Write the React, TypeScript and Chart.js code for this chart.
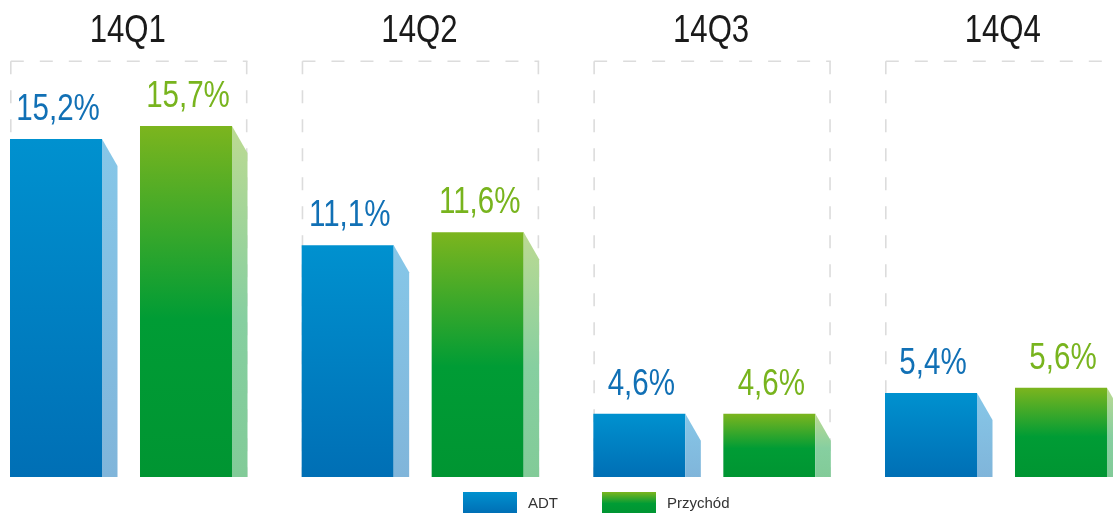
import React, { useEffect, useRef } from 'react';
import { Chart, registerables } from 'chart.js';

Chart.register(...registerables);

// ---- data ----
const quarters = ['14Q1', '14Q2', '14Q3', '14Q4'];
const adtValues = [15.2, 11.1, 4.6, 5.4];
const revenueValues = [15.7, 11.6, 4.6, 5.6];
const seriesNames = ['ADT', 'Przychód'];
const yMin = 2.157;
const yMax = 18.206;

// ---- style ----
const FONT = "'Liberation Sans', Arial, sans-serif";
const NARROW_SCALE = 0.82;
const SIDE_W = 15.5;
const SLANT = 27;
const LABEL_GAP = 19;
const LABEL_COLORS = ['#1170B5', '#78B41E'];

const fmt = (v: number) => v.toFixed(1).replace('.', ',') + '%';

function frontGradient(ctx: CanvasRenderingContext2D, top: number, bottom: number, kind: number) {
  const g = ctx.createLinearGradient(0, top, 0, bottom);
  if (kind === 0) {
    g.addColorStop(0, '#0091CF');
    g.addColorStop(1, '#006FB5');
  } else {
    g.addColorStop(0, '#7CB51E');
    g.addColorStop(0.55, '#009C35');
    g.addColorStop(1, '#009532');
  }
  return g;
}

function sideGradient(ctx: CanvasRenderingContext2D, top: number, bottom: number, kind: number) {
  const g = ctx.createLinearGradient(0, top, 0, bottom);
  if (kind === 0) {
    g.addColorStop(0, '#86C7E8');
    g.addColorStop(1, '#80B5DA');
  } else {
    g.addColorStop(0, '#BCDA92');
    g.addColorStop(0.55, '#86CFA0');
    g.addColorStop(1, '#82CB98');
  }
  return g;
}

// draws horizontally condensed text (like a "Narrow" face), centered at x
function narrowText(ctx: CanvasRenderingContext2D, text: string, x: number, y: number, size: number, color: string) {
  ctx.save();
  ctx.translate(x, y);
  ctx.scale(NARROW_SCALE, 1);
  ctx.fillStyle = color;
  ctx.font = `${size}px ${FONT}`;
  ctx.textAlign = 'center';
  ctx.textBaseline = 'alphabetic';
  ctx.fillText(text, 0, 0);
  ctx.restore();
}

const scriptedBg = (kind: number) => (c: any) => {
  const chart = c.chart;
  const area = chart.chartArea;
  if (!area || c.type !== 'data' || !chart.scales.y) return kind === 0 ? '#0091CF' : '#3CA82A';
  const top = chart.scales.y.getPixelForValue(c.raw);
  return frontGradient(chart.ctx, top, area.bottom, kind);
};

const decorPlugin = {
  id: 'decor',
  beforeDatasetsDraw(chart: any) {
    const { ctx, chartArea } = chart;
    const m0 = chart.getDatasetMeta(0);
    const m1 = chart.getDatasetMeta(1);
    ctx.save();
    quarters.forEach((q, i) => {
      const b0 = m0.data[i];
      const b1 = m1.data[i];
      if (!b0 || !b1) return;
      const left = b0.x - b0.width / 2;
      const right = b1.x + b1.width / 2 + SIDE_W;
      const t = chartArea.top + 0.25;
      ctx.strokeStyle = '#DCDCDC';
      ctx.lineWidth = 1.6;
      ctx.setLineDash([13, 16]);
      ctx.beginPath();
      ctx.moveTo(left + 0.8, t);
      ctx.lineTo(right, t);
      ctx.stroke();
      ctx.beginPath();
      ctx.moveTo(left + 0.8, t);
      ctx.lineTo(left + 0.8, chartArea.bottom);
      ctx.stroke();
      ctx.beginPath();
      ctx.moveTo(right - 0.8, t);
      ctx.lineTo(right - 0.8, chartArea.bottom);
      ctx.stroke();
      ctx.setLineDash([]);
      narrowText(ctx, q, (left + right) / 2 - 1, 42, 38, '#1A1A1A');
    });
    ctx.restore();
  },
  afterDatasetsDraw(chart: any) {
    const { ctx } = chart;
    ctx.save();
    [0, 1].forEach((di) => {
      const meta = chart.getDatasetMeta(di);
      const vals = di === 0 ? adtValues : revenueValues;
      meta.data.forEach((bar: any, i: number) => {
        const R = bar.x + bar.width / 2;
        const T = bar.y;
        const B = bar.base;
        ctx.fillStyle = sideGradient(ctx, T, B, di);
        ctx.beginPath();
        ctx.moveTo(R, T);
        ctx.lineTo(R + SIDE_W, T + SLANT);
        ctx.lineTo(R + SIDE_W, B);
        ctx.lineTo(R, B);
        ctx.closePath();
        ctx.fill();
        narrowText(ctx, fmt(vals[i]), bar.x + 2, T - LABEL_GAP, 36, LABEL_COLORS[di]);
      });
    });
    ctx.restore();
  },
  afterDraw(chart: any) {
    const { ctx, chartArea } = chart;
    ctx.save();
    const boxW = 54;
    const boxH = 21;
    const y0 = chartArea.bottom + 15;
    let x = 463;
    seriesNames.forEach((name, di) => {
      ctx.fillStyle = frontGradient(ctx, y0, y0 + boxH, di);
      ctx.fillRect(x, y0, boxW, boxH);
      ctx.fillStyle = '#333333';
      ctx.font = `15px ${FONT}`;
      ctx.textAlign = 'left';
      ctx.textBaseline = 'middle';
      ctx.fillText(name, x + boxW + 11, y0 + boxH / 2 + 1);
      x += 139;
    });
    ctx.restore();
  },
};

export default function App() {
  const canvasRef = useRef<HTMLCanvasElement | null>(null);

  useEffect(() => {
    if (!canvasRef.current) return;
    const chart = new Chart(canvasRef.current, {
      type: 'bar',
      data: {
        labels: quarters,
        datasets: [
          {
            label: seriesNames[0],
            data: adtValues,
            backgroundColor: scriptedBg(0) as any,
            borderWidth: 0,
            base: yMin,
            clip: false as any,
          },
          {
            label: seriesNames[1],
            data: revenueValues,
            backgroundColor: scriptedBg(1) as any,
            borderWidth: 0,
            base: yMin,
            clip: false as any,
          },
        ],
      },
      options: {
        animation: false,
        responsive: true,
        maintainAspectRatio: false,
        layout: { padding: { left: 121, right: 117, top: 61, bottom: 36 } },
        datasets: {
          bar: {
            categoryPercentage: 260 / 291.67,
            barPercentage: 92 / 130,
          },
        },
        scales: {
          x: { display: false, offset: false, grid: { display: false } },
          y: { display: false, min: yMin, max: yMax, grid: { display: false } },
        },
        plugins: {
          legend: { display: false },
          tooltip: { enabled: false },
        },
      },
      plugins: [decorPlugin],
    });
    return () => chart.destroy();
  }, []);

  return (
    <div style={{ position: 'absolute', left: 0, top: 0, width: 1113, height: 513, background: '#ffffff' }}>
      <canvas ref={canvasRef} />
    </div>
  );
}
